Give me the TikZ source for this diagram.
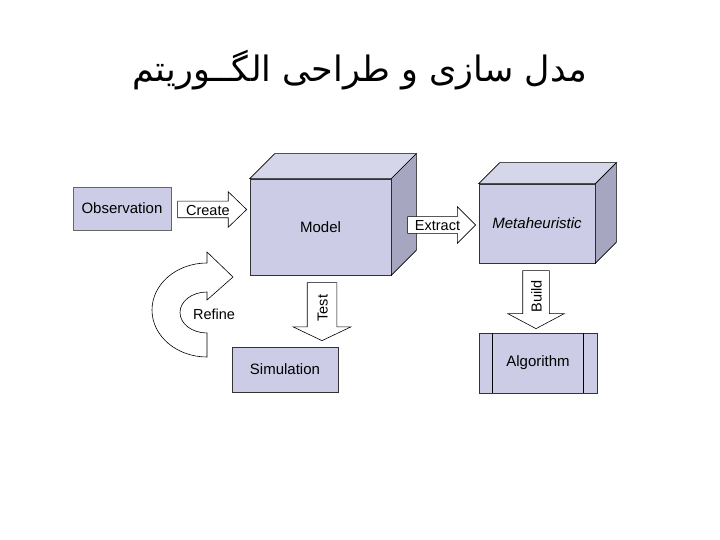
\documentclass[tikz,border=0pt]{standalone}
\usepackage{fontspec}
\setmainfont{Liberation Sans}
\newfontfamily\arabicfont[Script=Arabic]{DejaVu Sans}
\TeXXeTstate=1
\usetikzlibrary{shapes.arrows,calc,positioning}

\definecolor{boxfill}{RGB}{204,204,230}
\definecolor{boxside}{RGB}{166,166,192}
\definecolor{boxtop}{RGB}{214,214,234}

\begin{document}
\begin{tikzpicture}[x=1pt,y=-1pt,
    box/.style={draw=black!80,fill=boxfill,line width=0.7pt,inner sep=0pt,font=\fontsize{15}{18}\selectfont},
    blockarr/.style={single arrow,draw,fill=white,line width=0.6pt,font=\fontsize{14.5}{17}\selectfont,text height=11pt,text depth=0pt,inner xsep=3pt,anchor=tail}]
    \useasboundingbox (0,0) rectangle (720,540);
    \node (title) at (360,70) {\fontsize{35}{42}\selectfont\arabicfont\beginR مدل سازی و طراحی الگــوریتم\endR};

    % boxes
    \node[box,draw=black!60,minimum width=98pt,minimum height=43pt] (obs) at (122,208.5) {Observation};
    \node[box,minimum width=141pt,minimum height=96pt] (model) at (320.5,227) {Model};
    \node[box,minimum width=116pt,minimum height=79pt,font=\fontsize{15}{18}\selectfont\itshape] (meta) at (537,223.5) {Metaheuristic};
    \node[box,minimum width=106pt,minimum height=45pt] (sim) at (285,369.5) {Simulation};
    \node[box,minimum width=118pt,minimum height=60pt] (alg) at (538,363) {Algorithm};
    \draw[line width=0.7pt] ([xshift=14pt]alg.north west) -- ([xshift=14pt]alg.south west)
        ([xshift=-14pt]alg.north east) -- ([xshift=-14pt]alg.south east);

    % cube faces
    \foreach \n/\d in {model/25,meta/21} {
        \draw[fill=boxtop,line width=0.7pt] (\n.north west) -- ++(\d,-\d)
            -- ($(\n.north east)+(\d,-\d)$) -- (\n.north east) -- cycle;
        \draw[fill=boxside,line width=0.7pt] (\n.north east) -- ++(\d,-\d)
            -- ($(\n.south east)+(\d,-\d)$) -- (\n.south east) -- cycle;
    }

    % block arrows
    \node[blockarr,minimum height=69pt,inner ysep=2.5pt,single arrow head extend=9.5pt,single arrow tip angle=88] (create) at ($(obs.east)+(6,1)$) {Create};
    \node[blockarr,minimum height=68pt,inner ysep=2.5pt,single arrow head extend=10pt,single arrow tip angle=90] (extract) at ($(model.east)+(16,-2)$) {Extract};
    \node[blockarr,rotate=90,shape border rotate=180,minimum height=58pt,inner ysep=9pt,single arrow head extend=14pt,single arrow tip angle=129] (test) at ($(model.south)+(1.5,7)$) {Test};
    \node[blockarr,rotate=90,shape border rotate=180,minimum height=58pt,inner ysep=7.5pt,single arrow head extend=15pt,single arrow tip angle=124] (build) at ($(meta.south)+(-1,7)$) {Build};

    % refine loop
    \draw[fill=white,line width=0.6pt] (207,263) -- (207,252) -- (233,277) -- (207,300) -- (207,292)
        arc[start angle=270,end angle=90,x radius=27,y radius=20.5] -- (207,357)
        arc[start angle=90,end angle=270,x radius=55,y radius=47] -- cycle;
    \node[font=\fontsize{14.5}{17}\selectfont] (refine) at (214,314) {Refine};
\end{tikzpicture}
\end{document}
